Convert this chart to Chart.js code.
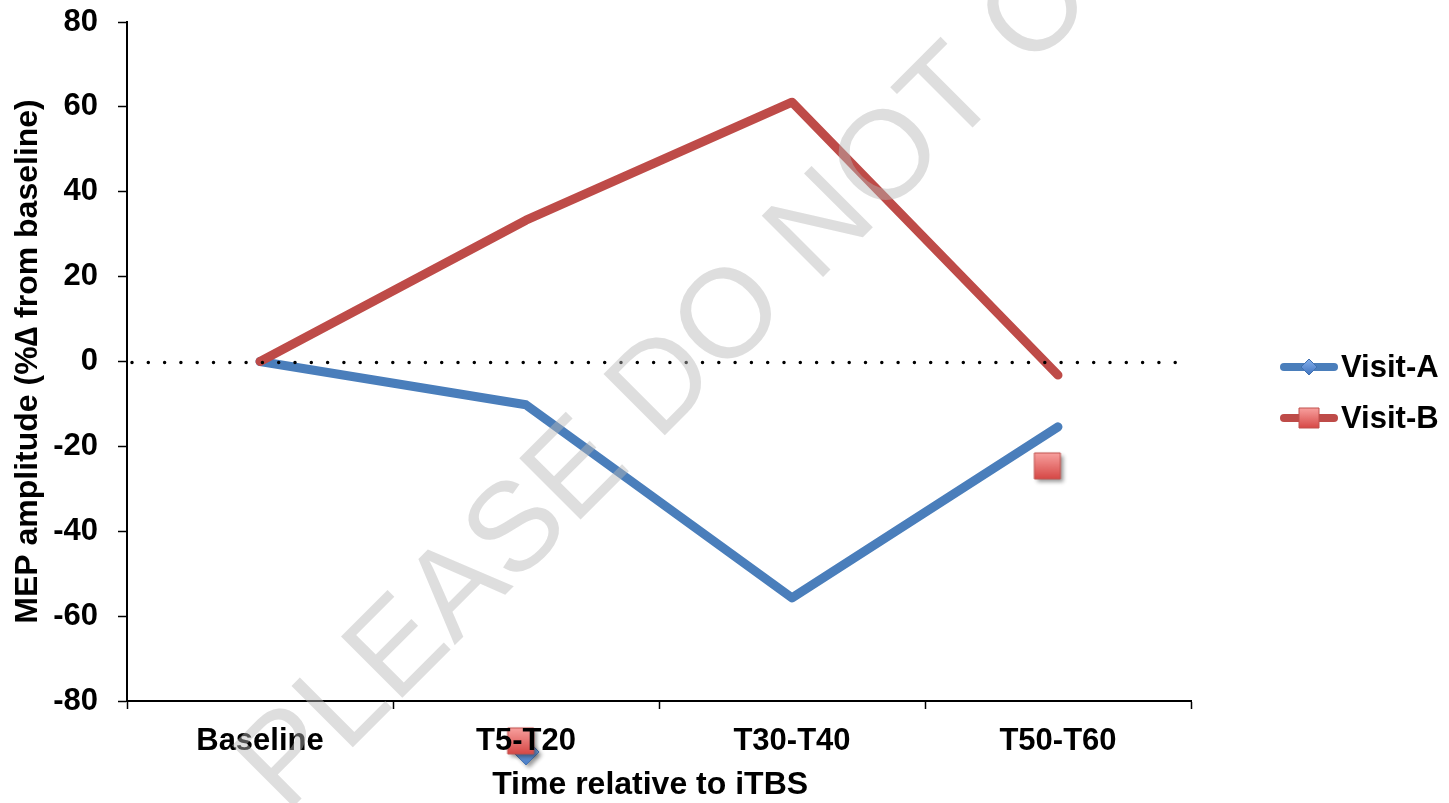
<!DOCTYPE html>
<html>
<head>
<meta charset="utf-8">
<title>MEP amplitude after iTBS</title>
<script src="https://cdn.jsdelivr.net/npm/chart.js@4.4.1/dist/chart.umd.min.js"></script>
<style>
  html, body { margin: 0; padding: 0; background: #fff; }
  #wrap { width: 1449px; height: 803px; position: relative; }
</style>
</head>
<body>
<div id="wrap"><canvas id="mep-chart"></canvas></div>
<script>
const FONT = '"Liberation Sans", Arial, sans-serif';

// Time windows relative to iTBS
const timeLabels = ['Baseline', 'T5-T20', 'T30-T40', 'T50-T60'];

// Mean % change in MEP amplitude per visit
const visitA = [0, -10.2, -55.7, -15.4];
const visitB = [0, 33.3, 61.1, -3.2];

// Loose markers left on the plot (x in category units)
const strayDiamondX = [1.0];
const strayDiamondY = [-92.0];
const straySquareX = [0.98, 2.96];
const straySquareY = [-89.4, -24.6];

const yTicks = { min: -80, max: 80, step: 20 };

const BLUE = '#4A7EBB';
const RED = '#BE4B48';

/**
 * Build a shaded marker image (square or diamond) for the plot / legend
 */
const makeMarker = (shape, size, top, bottom, edge, shadow) => {
    const pad = 8;
    const cv = document.createElement('canvas');
    cv.width = cv.height = size + pad * 2;
    const ctx = cv.getContext('2d');
    const c = cv.width / 2;
    const h = size / 2;

    ctx.beginPath();
    if (shape === 'diamond') {
        ctx.moveTo(c, c - h);
        ctx.lineTo(c + h, c);
        ctx.lineTo(c, c + h);
        ctx.lineTo(c - h, c);
        ctx.closePath();
    } else {
        ctx.rect(c - h, c - h, size, size);
    }
    const grad = ctx.createLinearGradient(0, c - h, 0, c + h);
    grad.addColorStop(0, top);
    grad.addColorStop(1, bottom);
    if (shadow) {
        ctx.shadowColor = 'rgba(0,0,0,0.4)';
        ctx.shadowBlur = 4;
        ctx.shadowOffsetX = 3;
        ctx.shadowOffsetY = 3;
    }
    ctx.fillStyle = grad;
    ctx.fill();
    ctx.shadowColor = 'transparent';
    ctx.lineWidth = 1;
    ctx.strokeStyle = edge;
    ctx.stroke();
    return cv;
};

const bigSquare = makeMarker('square', 26, '#F8A09E', '#D64846', '#C0504D', true);
const bigDiamond = makeMarker('diamond', 26, '#8FB6EA', '#4A7EC8', '#3F70B0', true);
const legendSquare = makeMarker('square', 20, '#F8A09E', '#D64846', '#C0504D', false);
const legendDiamond = makeMarker('diamond', 16, '#86B0EC', '#3F74C0', '#3F70B0', false);

// Dotted zero reference line
const zeroLine = {
    id: 'zeroLine',
    afterDatasetsDraw(chart) {
        const { ctx, chartArea } = chart;
        const y = chart.scales.y.getPixelForValue(0);
        ctx.save();
        ctx.strokeStyle = '#000';
        ctx.lineWidth = 3.5;
        ctx.lineCap = 'round';
        ctx.setLineDash([0, 16.3]);
        ctx.beginPath();
        ctx.moveTo(chartArea.left + 5, y + 1);
        ctx.lineTo(chartArea.right, y + 1);
        ctx.stroke();
        ctx.restore();
    }
};

// Loose markers, some of them sit below the axis so they are drawn here
const strayMarkers = {
    id: 'strayMarkers',
    afterDatasetsDraw(chart) {
        const { ctx } = chart;
        const xs = chart.scales.xs;
        const y = chart.scales.y;
        const put = (img, xv, yv) => {
            const px = xs.getPixelForValue(xv);
            const py = y.getPixelForValue(yv);
            ctx.drawImage(img, px - img.width / 2, py - img.height / 2);
        };
        strayDiamondX.forEach((xv, i) => put(bigDiamond, xv, strayDiamondY[i]));
        straySquareX.forEach((xv, i) => put(bigSquare, xv, straySquareY[i]));
    }
};

// Legend on the right: line segment with marker, bold label
const sideLegend = {
    id: 'sideLegend',
    afterDraw(chart) {
        const { ctx } = chart;
        const items = [
            { text: 'Visit-A', color: BLUE, img: legendDiamond, y: 367 },
            { text: 'Visit-B', color: RED, img: legendSquare, y: 418 }
        ];
        ctx.save();
        items.forEach(it => {
            ctx.strokeStyle = it.color;
            ctx.lineWidth = 8;
            ctx.lineCap = 'round';
            ctx.beginPath();
            ctx.moveTo(1284, it.y);
            ctx.lineTo(1334, it.y);
            ctx.stroke();
            ctx.drawImage(it.img, 1309 - it.img.width / 2, it.y - it.img.height / 2);
            ctx.fillStyle = '#000';
            ctx.font = 'bold 31px ' + FONT;
            ctx.textBaseline = 'middle';
            ctx.fillText(it.text, 1341, it.y + 1);
        });
        ctx.restore();
    }
};

// Semi-transparent diagonal watermark over everything
const watermark = {
    id: 'watermark',
    afterDraw(chart) {
        const { ctx } = chart;
        ctx.save();
        ctx.translate(286, 814);
        ctx.rotate(-Math.PI / 4);
        ctx.font = '126px ' + FONT;
        ctx.textBaseline = 'alphabetic';
        ctx.fillStyle = 'rgba(182,182,182,0.45)';
        ctx.fillText('PLEASE DO NOT COPY', 0, 0);
        ctx.restore();
    }
};

const tickFont = { family: FONT, size: 31, weight: 'bold' };
const titleFont = { family: FONT, size: 32, weight: 'bold' };

new Chart(document.getElementById('mep-chart'), {
    type: 'line',
    data: {
        labels: timeLabels,
        datasets: [
            {
                label: 'Visit-B',
                data: visitB,
                borderColor: RED,
                borderWidth: 9,
                borderCapStyle: 'round',
                borderJoinStyle: 'round',
                pointRadius: 0,
                tension: 0,
                order: 0
            },
            {
                label: 'Visit-A',
                data: visitA,
                borderColor: BLUE,
                borderWidth: 9,
                borderCapStyle: 'round',
                borderJoinStyle: 'round',
                pointRadius: 0,
                tension: 0,
                order: 1
            }
        ]
    },
    options: {
        responsive: true,
        maintainAspectRatio: false,
        animation: false,
        layout: { padding: { left: 0, top: 22, right: 258, bottom: 0 } },
        plugins: {
            legend: { display: false },
            tooltip: { enabled: false }
        },
        scales: {
            x: {
                type: 'category',
                offset: true,
                grid: {
                    offset: true,
                    drawOnChartArea: false,
                    tickLength: 8,
                    tickColor: '#000',
                    tickWidth: 1.5
                },
                border: { color: '#000', width: 2 },
                // labels go on top of the loose markers
                ticks: { color: '#000', font: tickFont, padding: 14, maxRotation: 0, z: 1 },
                title: {
                    display: true,
                    // trailing spaces nudge the centred title a little left
                    text: 'Time relative to iTBS  ',
                    color: '#000',
                    font: { ...titleFont, lineHeight: 1.1 },
                    padding: { top: 0, bottom: 0 }
                },
                afterFit: (scale) => { scale.height = 102; }
            },
            xs: {
                type: 'linear',
                display: false,
                min: -0.5,
                max: 3.5
            },
            y: {
                min: yTicks.min,
                max: yTicks.max,
                grid: {
                    drawOnChartArea: false,
                    tickLength: 9,
                    tickColor: '#000',
                    tickWidth: 1.5
                },
                border: { color: '#000', width: 2 },
                ticks: { stepSize: yTicks.step, color: '#000', font: tickFont, padding: 20 },
                title: {
                    display: true,
                    text: 'MEP amplitude (%\u2206 from baseline)',
                    color: '#000',
                    font: titleFont,
                    padding: { top: 9, bottom: 0 }
                },
                afterFit: (scale) => {
                    scale.width = 127;
                    scale.paddingTop = 0;
                    scale.paddingBottom = 0;
                }
            }
        }
    },
    plugins: [zeroLine, strayMarkers, sideLegend, watermark]
});
</script>
</body>
</html>
